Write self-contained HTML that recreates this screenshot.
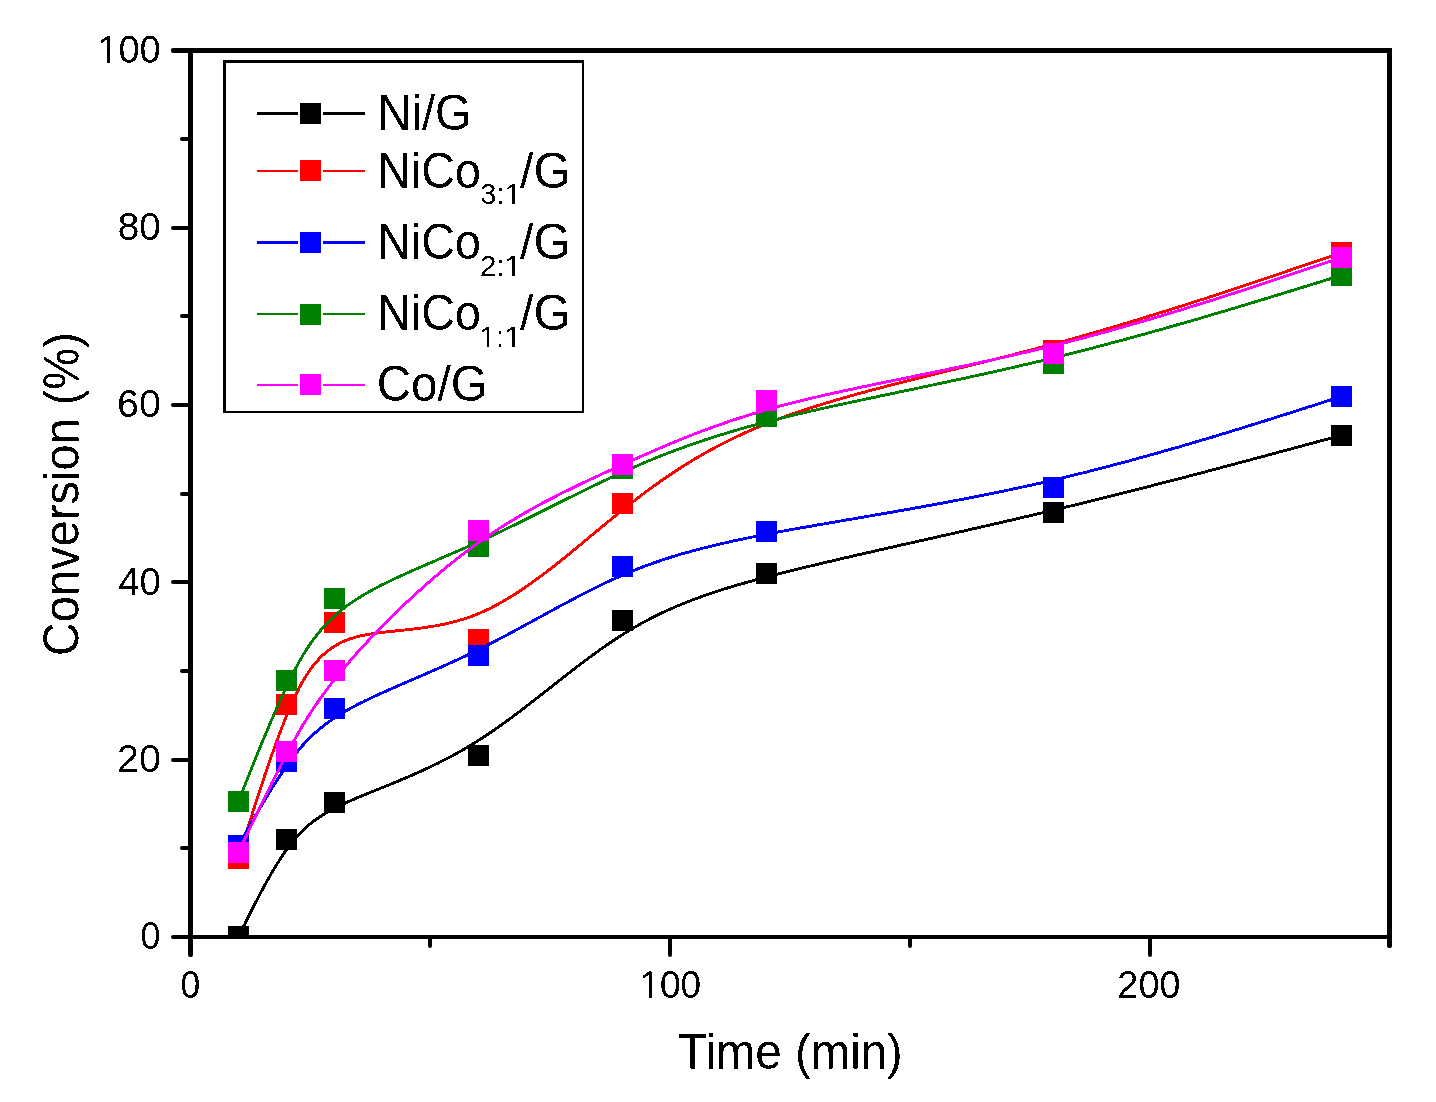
<!DOCTYPE html>
<html><head><meta charset="utf-8"><title>Conversion vs Time</title>
<style>html,body{margin:0;padding:0;background:#fff;} body{width:1436px;height:1102px;} svg{display:block;will-change:transform;}</style>
</head><body>
<svg width="1436" height="1102" viewBox="0 0 1436 1102">
<rect x="0" y="0" width="1436" height="1102" fill="#fff"/>
<defs><clipPath id="pc"><rect x="190.5" y="50.5" width="1199" height="886.5"/></clipPath></defs>
<g clip-path="url(#pc)">
<path d="M238.5,937.0 L238.5,937.0 L238.5,937.0 L238.5,937.0 L238.5,937.0 L238.5,937.0 L238.5,937.0 L238.5,937.0 L238.5,937.0 L238.5,936.9 L238.5,936.9 L238.5,936.9 L238.5,936.8 L238.6,936.8 L238.6,936.7 L238.6,936.7 L238.7,936.6 L238.7,936.5 L238.7,936.4 L238.8,936.3 L238.8,936.2 L238.9,936.1 L239.0,936.0 L239.0,935.8 L239.1,935.7 L239.2,935.5 L239.3,935.3 L239.4,935.1 L239.5,934.9 L239.6,934.7 L239.7,934.4 L239.9,934.2 L240.0,933.9 L240.1,933.6 L240.3,933.3 L240.5,932.9 L240.6,932.6 L240.8,932.2 L241.0,931.8 L241.2,931.4 L241.5,930.9 L241.7,930.5 L241.9,930.0 L242.2,929.4 L242.5,928.9 L242.7,928.3 L243.0,927.8 L243.3,927.1 L243.6,926.5 L244.0,925.8 L244.3,925.1 L244.7,924.4 L245.1,923.6 L245.4,922.9 L245.8,922.0 L246.3,921.2 L246.7,920.3 L247.1,919.4 L247.6,918.5 L248.1,917.5 L248.6,916.5 L249.1,915.5 L249.6,914.4 L250.1,913.4 L250.7,912.2 L251.3,911.1 L251.8,910.0 L252.4,908.8 L253.0,907.6 L253.6,906.4 L254.3,905.2 L254.9,903.9 L255.5,902.7 L256.2,901.4 L256.9,900.1 L257.5,898.8 L258.2,897.5 L258.9,896.1 L259.6,894.8 L260.4,893.4 L261.1,892.0 L261.8,890.7 L262.6,889.3 L263.3,887.9 L264.1,886.5 L264.8,885.1 L265.6,883.7 L266.4,882.2 L267.2,880.8 L268.0,879.4 L268.8,878.0 L269.6,876.6 L270.4,875.1 L271.2,873.7 L272.0,872.3 L272.9,870.9 L273.7,869.5 L274.5,868.1 L275.4,866.7 L276.2,865.3 L277.1,864.0 L277.9,862.6 L278.8,861.2 L279.6,859.9 L280.5,858.6 L281.3,857.2 L282.2,855.9 L283.1,854.6 L283.9,853.4 L284.8,852.1 L285.7,850.9 L286.5,849.6 L287.4,848.4 L288.2,847.3 L289.1,846.1 L290.0,845.0 L290.9,843.8 L291.7,842.7 L292.6,841.6 L293.5,840.5 L294.4,839.5 L295.3,838.4 L296.2,837.4 L297.1,836.4 L298.0,835.4 L298.9,834.4 L299.8,833.4 L300.7,832.5 L301.7,831.5 L302.6,830.6 L303.6,829.6 L304.6,828.7 L305.6,827.8 L306.6,826.9 L307.6,826.1 L308.6,825.2 L309.6,824.3 L310.7,823.5 L311.7,822.6 L312.8,821.8 L313.9,821.0 L315.0,820.2 L316.2,819.4 L317.3,818.6 L318.5,817.8 L319.6,817.0 L320.9,816.2 L322.1,815.4 L323.3,814.6 L324.6,813.8 L325.9,813.1 L327.2,812.3 L328.5,811.6 L329.9,810.8 L331.2,810.0 L332.6,809.3 L334.1,808.5 L335.5,807.8 L337.0,807.0 L338.5,806.3 L340.0,805.5 L341.6,804.8 L343.2,804.0 L344.8,803.3 L346.4,802.5 L348.1,801.8 L349.8,801.0 L351.5,800.2 L353.3,799.5 L355.1,798.7 L356.9,797.9 L358.8,797.1 L360.7,796.4 L362.6,795.6 L364.5,794.8 L366.5,794.0 L368.5,793.2 L370.5,792.3 L372.5,791.5 L374.6,790.7 L376.7,789.8 L378.8,789.0 L380.9,788.1 L383.1,787.2 L385.3,786.4 L387.5,785.5 L389.7,784.6 L392.0,783.6 L394.2,782.7 L396.5,781.8 L398.8,780.8 L401.1,779.8 L403.5,778.8 L405.8,777.8 L408.2,776.8 L410.6,775.8 L413.0,774.7 L415.4,773.7 L417.8,772.6 L420.3,771.5 L422.7,770.4 L425.2,769.2 L427.7,768.1 L430.2,766.9 L432.7,765.7 L435.2,764.5 L437.7,763.3 L440.2,762.0 L442.8,760.7 L445.3,759.4 L447.8,758.1 L450.4,756.7 L453.0,755.4 L455.5,754.0 L458.1,752.5 L460.7,751.1 L463.3,749.6 L465.9,748.1 L468.5,746.6 L471.1,745.1 L473.6,743.5 L476.2,741.9 L478.8,740.2 L481.4,738.6 L484.0,736.9 L486.6,735.2 L489.2,733.4 L491.8,731.7 L494.4,729.9 L497.0,728.0 L499.6,726.2 L502.2,724.4 L504.8,722.5 L507.4,720.6 L510.0,718.7 L512.6,716.8 L515.2,714.8 L517.8,712.9 L520.4,710.9 L523.0,708.9 L525.5,706.9 L528.1,704.9 L530.7,702.9 L533.3,700.9 L535.9,698.9 L538.5,696.9 L541.1,694.8 L543.7,692.8 L546.3,690.8 L548.9,688.7 L551.5,686.7 L554.1,684.7 L556.7,682.6 L559.3,680.6 L561.9,678.6 L564.5,676.5 L567.1,674.5 L569.7,672.5 L572.3,670.5 L574.9,668.5 L577.4,666.5 L580.0,664.5 L582.6,662.6 L585.2,660.6 L587.8,658.7 L590.4,656.7 L593.0,654.8 L595.6,653.0 L598.2,651.1 L600.8,649.2 L603.4,647.4 L606.0,645.6 L608.6,643.8 L611.2,642.0 L613.8,640.3 L616.4,638.6 L619.0,636.9 L621.6,635.2 L624.2,633.6 L626.8,632.0 L629.4,630.4 L632.0,628.8 L634.6,627.3 L637.2,625.8 L639.8,624.3 L642.4,622.9 L645.0,621.5 L647.6,620.1 L650.3,618.7 L652.9,617.3 L655.6,616.0 L658.3,614.7 L660.9,613.4 L663.6,612.1 L666.3,610.9 L669.1,609.6 L671.8,608.4 L674.6,607.2 L677.3,606.0 L680.1,604.9 L682.9,603.7 L685.7,602.6 L688.6,601.5 L691.4,600.3 L694.3,599.3 L697.2,598.2 L700.2,597.1 L703.1,596.0 L706.1,595.0 L709.1,594.0 L712.2,592.9 L715.2,591.9 L718.3,590.9 L721.4,589.9 L724.6,588.9 L727.8,587.9 L731.0,586.9 L734.2,586.0 L737.5,585.0 L740.8,584.0 L744.2,583.1 L747.5,582.1 L751.0,581.2 L754.4,580.2 L757.9,579.3 L761.5,578.3 L765.0,577.4 L768.7,576.4 L772.3,575.5 L776.0,574.5 L779.8,573.5 L783.6,572.6 L787.4,571.6 L791.3,570.7 L795.2,569.7 L799.2,568.7 L803.2,567.7 L807.3,566.7 L811.4,565.8 L815.6,564.8 L819.7,563.8 L824.0,562.8 L828.3,561.8 L832.6,560.8 L836.9,559.7 L841.3,558.7 L845.7,557.7 L850.2,556.7 L854.7,555.6 L859.2,554.6 L863.8,553.6 L868.4,552.5 L873.0,551.5 L877.6,550.4 L882.3,549.3 L887.0,548.3 L891.8,547.2 L896.5,546.1 L901.3,545.0 L906.2,544.0 L911.0,542.9 L915.9,541.8 L920.8,540.7 L925.7,539.6 L930.6,538.5 L935.6,537.3 L940.5,536.2 L945.5,535.1 L950.5,534.0 L955.6,532.8 L960.6,531.7 L965.7,530.5 L970.8,529.4 L975.8,528.2 L980.9,527.1 L986.0,525.9 L991.2,524.7 L996.3,523.5 L1001.4,522.4 L1006.6,521.2 L1011.8,520.0 L1016.9,518.8 L1022.1,517.6 L1027.3,516.3 L1032.5,515.1 L1037.6,513.9 L1042.8,512.7 L1048.0,511.4 L1053.2,510.2 L1058.4,509.0 L1063.6,507.7 L1068.8,506.4 L1073.9,505.2 L1079.1,503.9 L1084.3,502.7 L1089.4,501.4 L1094.6,500.1 L1099.7,498.8 L1104.8,497.6 L1109.9,496.3 L1115.0,495.0 L1120.1,493.8 L1125.1,492.5 L1130.1,491.2 L1135.1,489.9 L1140.1,488.7 L1145.0,487.4 L1149.9,486.2 L1154.8,484.9 L1159.6,483.7 L1164.4,482.4 L1169.2,481.2 L1173.9,480.0 L1178.6,478.8 L1183.3,477.6 L1187.9,476.4 L1192.4,475.2 L1196.9,474.0 L1201.4,472.8 L1205.8,471.7 L1210.2,470.5 L1214.5,469.4 L1218.7,468.3 L1222.9,467.1 L1227.0,466.0 L1231.1,465.0 L1235.1,463.9 L1239.1,462.8 L1242.9,461.8 L1246.8,460.8 L1250.5,459.8 L1254.2,458.8 L1257.8,457.8 L1261.3,456.9 L1264.8,456.0 L1268.1,455.1 L1271.4,454.2 L1274.6,453.3 L1277.8,452.5 L1280.8,451.6 L1283.8,450.8 L1286.6,450.1 L1289.4,449.3 L1292.1,448.6 L1294.7,447.9 L1297.2,447.2 L1299.6,446.6 L1302.0,445.9 L1304.2,445.3 L1306.4,444.7 L1308.4,444.2 L1310.4,443.6 L1312.3,443.1 L1314.2,442.6 L1315.9,442.2 L1317.6,441.7 L1319.2,441.3 L1320.7,440.9 L1322.1,440.5 L1323.5,440.1 L1324.8,439.8 L1326.1,439.4 L1327.3,439.1 L1328.4,438.8 L1329.5,438.5 L1330.5,438.2 L1331.4,438.0 L1332.3,437.7 L1333.2,437.5 L1333.9,437.3 L1334.7,437.1 L1335.4,436.9 L1336.0,436.7 L1336.6,436.6 L1337.1,436.4 L1337.7,436.3 L1338.1,436.2 L1338.5,436.1 L1338.9,435.9 L1339.3,435.8 L1339.6,435.8 L1339.9,435.7 L1340.2,435.6 L1340.4,435.6 L1340.6,435.5 L1340.8,435.4 L1340.9,435.4 L1341.1,435.4 L1341.2,435.3 L1341.3,435.3 L1341.3,435.3 L1341.4,435.3 L1341.4,435.3 L1341.5,435.3 L1341.5,435.3 L1341.5,435.2 L1341.5,435.2 L1341.5,435.2 L1341.5,435.2 L1341.5,435.2" fill="none" stroke="#000000" stroke-width="2.9" stroke-linejoin="round" shape-rendering="crispEdges"/>
<rect x="228" y="926" width="21" height="21" fill="#000000"/>
<rect x="276" y="829" width="21" height="21" fill="#000000"/>
<rect x="324" y="792" width="21" height="21" fill="#000000"/>
<rect x="468" y="745" width="21" height="21" fill="#000000"/>
<rect x="612" y="610" width="21" height="21" fill="#000000"/>
<rect x="756" y="563" width="21" height="21" fill="#000000"/>
<rect x="1043" y="502" width="21" height="21" fill="#000000"/>
<rect x="1331" y="425" width="21" height="21" fill="#000000"/>
<path d="M238.5,858.2 L238.5,858.2 L238.5,858.2 L238.5,858.2 L238.5,858.2 L238.5,858.2 L238.5,858.2 L238.5,858.1 L238.5,858.1 L238.5,858.1 L238.5,858.0 L238.5,858.0 L238.5,857.9 L238.6,857.9 L238.6,857.8 L238.6,857.7 L238.7,857.6 L238.7,857.4 L238.7,857.3 L238.8,857.2 L238.8,857.0 L238.9,856.8 L239.0,856.6 L239.0,856.4 L239.1,856.1 L239.2,855.8 L239.3,855.5 L239.4,855.2 L239.5,854.9 L239.6,854.5 L239.7,854.1 L239.9,853.7 L240.0,853.3 L240.1,852.8 L240.3,852.3 L240.5,851.7 L240.6,851.2 L240.8,850.6 L241.0,849.9 L241.2,849.2 L241.5,848.5 L241.7,847.8 L241.9,847.0 L242.2,846.2 L242.5,845.3 L242.7,844.5 L243.0,843.5 L243.3,842.5 L243.6,841.5 L244.0,840.5 L244.3,839.3 L244.7,838.2 L245.1,837.0 L245.4,835.7 L245.8,834.5 L246.3,833.1 L246.7,831.7 L247.1,830.3 L247.6,828.8 L248.1,827.2 L248.6,825.7 L249.1,824.0 L249.6,822.4 L250.1,820.7 L250.7,818.9 L251.3,817.1 L251.8,815.3 L252.4,813.4 L253.0,811.5 L253.6,809.6 L254.3,807.6 L254.9,805.6 L255.5,803.6 L256.2,801.6 L256.9,799.5 L257.5,797.4 L258.2,795.2 L258.9,793.1 L259.6,790.9 L260.4,788.7 L261.1,786.5 L261.8,784.3 L262.6,782.0 L263.3,779.8 L264.1,777.5 L264.8,775.2 L265.6,772.9 L266.4,770.6 L267.2,768.3 L268.0,766.0 L268.8,763.7 L269.6,761.3 L270.4,759.0 L271.2,756.7 L272.0,754.3 L272.9,752.0 L273.7,749.7 L274.5,747.3 L275.4,745.0 L276.2,742.7 L277.1,740.4 L277.9,738.1 L278.8,735.8 L279.6,733.5 L280.5,731.2 L281.3,729.0 L282.2,726.8 L283.1,724.5 L283.9,722.3 L284.8,720.2 L285.7,718.0 L286.5,715.9 L287.4,713.7 L288.2,711.7 L289.1,709.6 L290.0,707.6 L290.9,705.5 L291.7,703.5 L292.6,701.6 L293.5,699.6 L294.4,697.7 L295.3,695.8 L296.2,694.0 L297.1,692.1 L298.0,690.3 L298.9,688.5 L299.8,686.7 L300.7,685.0 L301.7,683.3 L302.6,681.6 L303.6,679.9 L304.6,678.3 L305.6,676.7 L306.6,675.1 L307.6,673.5 L308.6,672.0 L309.6,670.5 L310.7,669.0 L311.7,667.6 L312.8,666.2 L313.9,664.8 L315.0,663.4 L316.2,662.1 L317.3,660.8 L318.5,659.5 L319.6,658.3 L320.9,657.0 L322.1,655.8 L323.3,654.7 L324.6,653.5 L325.9,652.4 L327.2,651.4 L328.5,650.3 L329.9,649.3 L331.2,648.3 L332.6,647.4 L334.1,646.5 L335.5,645.6 L337.0,644.7 L338.5,643.9 L340.0,643.1 L341.6,642.3 L343.2,641.6 L344.8,640.9 L346.4,640.2 L348.1,639.5 L349.8,638.9 L351.5,638.3 L353.3,637.8 L355.1,637.3 L356.9,636.8 L358.8,636.3 L360.7,635.9 L362.6,635.5 L364.5,635.1 L366.5,634.7 L368.5,634.3 L370.5,634.0 L372.5,633.7 L374.6,633.4 L376.7,633.1 L378.8,632.8 L380.9,632.5 L383.1,632.3 L385.3,632.0 L387.5,631.8 L389.7,631.5 L392.0,631.3 L394.2,631.1 L396.5,630.8 L398.8,630.6 L401.1,630.4 L403.5,630.1 L405.8,629.9 L408.2,629.6 L410.6,629.3 L413.0,629.1 L415.4,628.8 L417.8,628.5 L420.3,628.2 L422.7,627.8 L425.2,627.5 L427.7,627.1 L430.2,626.7 L432.7,626.3 L435.2,625.9 L437.7,625.4 L440.2,624.9 L442.8,624.4 L445.3,623.9 L447.8,623.3 L450.4,622.7 L453.0,622.1 L455.5,621.4 L458.1,620.7 L460.7,619.9 L463.3,619.1 L465.9,618.3 L468.5,617.4 L471.1,616.5 L473.6,615.6 L476.2,614.5 L478.8,613.5 L481.4,612.4 L484.0,611.2 L486.6,610.0 L489.2,608.8 L491.8,607.5 L494.4,606.1 L497.0,604.8 L499.6,603.3 L502.2,601.9 L504.8,600.4 L507.4,598.8 L510.0,597.3 L512.6,595.7 L515.2,594.0 L517.8,592.3 L520.4,590.6 L523.0,588.9 L525.5,587.1 L528.1,585.3 L530.7,583.5 L533.3,581.6 L535.9,579.7 L538.5,577.8 L541.1,575.9 L543.7,574.0 L546.3,572.0 L548.9,570.0 L551.5,568.0 L554.1,566.0 L556.7,563.9 L559.3,561.9 L561.9,559.8 L564.5,557.7 L567.1,555.6 L569.7,553.5 L572.3,551.4 L574.9,549.2 L577.4,547.1 L580.0,545.0 L582.6,542.8 L585.2,540.7 L587.8,538.5 L590.4,536.3 L593.0,534.2 L595.6,532.0 L598.2,529.9 L600.8,527.7 L603.4,525.6 L606.0,523.4 L608.6,521.3 L611.2,519.2 L613.8,517.1 L616.4,514.9 L619.0,512.8 L621.6,510.8 L624.2,508.7 L626.8,506.6 L629.4,504.6 L632.0,502.5 L634.6,500.5 L637.2,498.5 L639.8,496.5 L642.4,494.5 L645.0,492.6 L647.6,490.6 L650.3,488.7 L652.9,486.7 L655.6,484.8 L658.3,482.9 L660.9,481.0 L663.6,479.1 L666.3,477.3 L669.1,475.4 L671.8,473.6 L674.6,471.8 L677.3,469.9 L680.1,468.1 L682.9,466.3 L685.7,464.6 L688.6,462.8 L691.4,461.1 L694.3,459.3 L697.2,457.6 L700.2,455.9 L703.1,454.2 L706.1,452.5 L709.1,450.8 L712.2,449.2 L715.2,447.5 L718.3,445.9 L721.4,444.2 L724.6,442.6 L727.8,441.0 L731.0,439.4 L734.2,437.9 L737.5,436.3 L740.8,434.8 L744.2,433.2 L747.5,431.7 L751.0,430.2 L754.4,428.7 L757.9,427.2 L761.5,425.7 L765.0,424.2 L768.7,422.8 L772.3,421.3 L776.0,419.9 L779.8,418.5 L783.6,417.1 L787.4,415.7 L791.3,414.3 L795.2,412.9 L799.2,411.6 L803.2,410.2 L807.3,408.9 L811.4,407.6 L815.6,406.3 L819.7,405.0 L824.0,403.7 L828.3,402.4 L832.6,401.1 L836.9,399.8 L841.3,398.5 L845.7,397.3 L850.2,396.0 L854.7,394.8 L859.2,393.5 L863.8,392.3 L868.4,391.0 L873.0,389.8 L877.6,388.6 L882.3,387.4 L887.0,386.1 L891.8,384.9 L896.5,383.7 L901.3,382.5 L906.2,381.2 L911.0,380.0 L915.9,378.8 L920.8,377.6 L925.7,376.4 L930.6,375.1 L935.6,373.9 L940.5,372.7 L945.5,371.4 L950.5,370.2 L955.6,369.0 L960.6,367.7 L965.7,366.5 L970.8,365.2 L975.8,364.0 L980.9,362.7 L986.0,361.4 L991.2,360.2 L996.3,358.9 L1001.4,357.6 L1006.6,356.3 L1011.8,355.0 L1016.9,353.6 L1022.1,352.3 L1027.3,351.0 L1032.5,349.6 L1037.6,348.2 L1042.8,346.9 L1048.0,345.5 L1053.2,344.1 L1058.4,342.7 L1063.6,341.3 L1068.8,339.8 L1073.9,338.4 L1079.1,336.9 L1084.3,335.4 L1089.4,334.0 L1094.6,332.5 L1099.7,331.0 L1104.8,329.5 L1109.9,328.0 L1115.0,326.5 L1120.1,325.0 L1125.1,323.5 L1130.1,322.0 L1135.1,320.5 L1140.1,319.0 L1145.0,317.5 L1149.9,315.9 L1154.8,314.4 L1159.6,312.9 L1164.4,311.4 L1169.2,309.9 L1173.9,308.5 L1178.6,307.0 L1183.3,305.5 L1187.9,304.0 L1192.4,302.6 L1196.9,301.1 L1201.4,299.7 L1205.8,298.3 L1210.2,296.8 L1214.5,295.4 L1218.7,294.0 L1222.9,292.7 L1227.0,291.3 L1231.1,290.0 L1235.1,288.6 L1239.1,287.3 L1242.9,286.0 L1246.8,284.8 L1250.5,283.5 L1254.2,282.3 L1257.8,281.1 L1261.3,279.9 L1264.8,278.7 L1268.1,277.6 L1271.4,276.5 L1274.6,275.4 L1277.8,274.3 L1280.8,273.3 L1283.8,272.3 L1286.6,271.3 L1289.4,270.4 L1292.1,269.4 L1294.7,268.6 L1297.2,267.7 L1299.6,266.9 L1302.0,266.1 L1304.2,265.3 L1306.4,264.6 L1308.4,263.9 L1310.4,263.2 L1312.3,262.6 L1314.2,261.9 L1315.9,261.4 L1317.6,260.8 L1319.2,260.2 L1320.7,259.7 L1322.1,259.2 L1323.5,258.8 L1324.8,258.3 L1326.1,257.9 L1327.3,257.5 L1328.4,257.1 L1329.5,256.7 L1330.5,256.4 L1331.4,256.1 L1332.3,255.8 L1333.2,255.5 L1333.9,255.2 L1334.7,255.0 L1335.4,254.7 L1336.0,254.5 L1336.6,254.3 L1337.1,254.1 L1337.7,253.9 L1338.1,253.8 L1338.5,253.6 L1338.9,253.5 L1339.3,253.4 L1339.6,253.3 L1339.9,253.2 L1340.2,253.1 L1340.4,253.0 L1340.6,252.9 L1340.8,252.9 L1340.9,252.8 L1341.1,252.8 L1341.2,252.7 L1341.3,252.7 L1341.3,252.7 L1341.4,252.7 L1341.4,252.7 L1341.5,252.6 L1341.5,252.6 L1341.5,252.6 L1341.5,252.6 L1341.5,252.6 L1341.5,252.6 L1341.5,252.6" fill="none" stroke="#ff0000" stroke-width="2.9" stroke-linejoin="round" shape-rendering="crispEdges"/>
<rect x="228" y="848" width="21" height="21" fill="#ff0000"/>
<rect x="276" y="694" width="21" height="21" fill="#ff0000"/>
<rect x="324" y="612" width="21" height="21" fill="#ff0000"/>
<rect x="468" y="629" width="21" height="21" fill="#ff0000"/>
<rect x="612" y="493" width="21" height="21" fill="#ff0000"/>
<rect x="756" y="398" width="21" height="21" fill="#ff0000"/>
<rect x="1043" y="340" width="21" height="21" fill="#ff0000"/>
<rect x="1331" y="242" width="21" height="21" fill="#ff0000"/>
<path d="M238.5,845.4 L238.5,845.4 L238.5,845.4 L238.5,845.4 L238.5,845.4 L238.5,845.4 L238.5,845.4 L238.5,845.4 L238.5,845.4 L238.5,845.4 L238.5,845.3 L238.5,845.3 L238.5,845.3 L238.6,845.2 L238.6,845.2 L238.6,845.1 L238.7,845.1 L238.7,845.0 L238.7,844.9 L238.8,844.9 L238.8,844.8 L238.9,844.7 L239.0,844.5 L239.0,844.4 L239.1,844.3 L239.2,844.1 L239.3,844.0 L239.4,843.8 L239.5,843.6 L239.6,843.4 L239.7,843.2 L239.9,843.0 L240.0,842.7 L240.1,842.5 L240.3,842.2 L240.5,841.9 L240.6,841.6 L240.8,841.2 L241.0,840.9 L241.2,840.5 L241.5,840.1 L241.7,839.7 L241.9,839.3 L242.2,838.9 L242.5,838.4 L242.7,837.9 L243.0,837.4 L243.3,836.9 L243.6,836.3 L244.0,835.7 L244.3,835.1 L244.7,834.5 L245.1,833.8 L245.4,833.1 L245.8,832.4 L246.3,831.7 L246.7,830.9 L247.1,830.1 L247.6,829.3 L248.1,828.5 L248.6,827.6 L249.1,826.7 L249.6,825.8 L250.1,824.9 L250.7,823.9 L251.3,822.9 L251.8,821.9 L252.4,820.9 L253.0,819.9 L253.6,818.8 L254.3,817.7 L254.9,816.6 L255.5,815.5 L256.2,814.4 L256.9,813.2 L257.5,812.1 L258.2,810.9 L258.9,809.7 L259.6,808.5 L260.4,807.3 L261.1,806.1 L261.8,804.8 L262.6,803.6 L263.3,802.3 L264.1,801.1 L264.8,799.8 L265.6,798.5 L266.4,797.2 L267.2,796.0 L268.0,794.7 L268.8,793.4 L269.6,792.0 L270.4,790.7 L271.2,789.4 L272.0,788.1 L272.9,786.8 L273.7,785.5 L274.5,784.2 L275.4,782.9 L276.2,781.6 L277.1,780.2 L277.9,778.9 L278.8,777.6 L279.6,776.3 L280.5,775.0 L281.3,773.8 L282.2,772.5 L283.1,771.2 L283.9,769.9 L284.8,768.7 L285.7,767.4 L286.5,766.2 L287.4,765.0 L288.2,763.7 L289.1,762.5 L290.0,761.3 L290.9,760.1 L291.7,759.0 L292.6,757.8 L293.5,756.6 L294.4,755.5 L295.3,754.3 L296.2,753.2 L297.1,752.1 L298.0,750.9 L298.9,749.8 L299.8,748.7 L300.7,747.6 L301.7,746.5 L302.6,745.4 L303.6,744.4 L304.6,743.3 L305.6,742.2 L306.6,741.2 L307.6,740.1 L308.6,739.1 L309.6,738.1 L310.7,737.0 L311.7,736.0 L312.8,735.0 L313.9,734.0 L315.0,732.9 L316.2,731.9 L317.3,730.9 L318.5,729.9 L319.6,728.9 L320.9,728.0 L322.1,727.0 L323.3,726.0 L324.6,725.0 L325.9,724.0 L327.2,723.1 L328.5,722.1 L329.9,721.1 L331.2,720.2 L332.6,719.2 L334.1,718.2 L335.5,717.3 L337.0,716.3 L338.5,715.4 L340.0,714.4 L341.6,713.5 L343.2,712.5 L344.8,711.6 L346.4,710.6 L348.1,709.7 L349.8,708.7 L351.5,707.8 L353.3,706.8 L355.1,705.9 L356.9,704.9 L358.8,704.0 L360.7,703.0 L362.6,702.1 L364.5,701.1 L366.5,700.2 L368.5,699.2 L370.5,698.3 L372.5,697.3 L374.6,696.3 L376.7,695.4 L378.8,694.4 L380.9,693.4 L383.1,692.5 L385.3,691.5 L387.5,690.5 L389.7,689.5 L392.0,688.5 L394.2,687.5 L396.5,686.5 L398.8,685.5 L401.1,684.5 L403.5,683.5 L405.8,682.5 L408.2,681.5 L410.6,680.4 L413.0,679.4 L415.4,678.3 L417.8,677.3 L420.3,676.2 L422.7,675.2 L425.2,674.1 L427.7,673.0 L430.2,671.9 L432.7,670.8 L435.2,669.7 L437.7,668.6 L440.2,667.5 L442.8,666.4 L445.3,665.2 L447.8,664.1 L450.4,662.9 L453.0,661.7 L455.5,660.6 L458.1,659.4 L460.7,658.2 L463.3,657.0 L465.9,655.7 L468.5,654.5 L471.1,653.3 L473.6,652.0 L476.2,650.7 L478.8,649.5 L481.4,648.2 L484.0,646.9 L486.6,645.6 L489.2,644.2 L491.8,642.9 L494.4,641.6 L497.0,640.2 L499.6,638.8 L502.2,637.5 L504.8,636.1 L507.4,634.7 L510.0,633.3 L512.6,631.9 L515.2,630.5 L517.8,629.1 L520.4,627.7 L523.0,626.3 L525.5,624.9 L528.1,623.5 L530.7,622.1 L533.3,620.7 L535.9,619.2 L538.5,617.8 L541.1,616.4 L543.7,615.0 L546.3,613.6 L548.9,612.1 L551.5,610.7 L554.1,609.3 L556.7,607.9 L559.3,606.5 L561.9,605.1 L564.5,603.7 L567.1,602.4 L569.7,601.0 L572.3,599.6 L574.9,598.2 L577.4,596.9 L580.0,595.5 L582.6,594.2 L585.2,592.9 L587.8,591.5 L590.4,590.2 L593.0,588.9 L595.6,587.7 L598.2,586.4 L600.8,585.1 L603.4,583.9 L606.0,582.6 L608.6,581.4 L611.2,580.2 L613.8,579.0 L616.4,577.9 L619.0,576.7 L621.6,575.6 L624.2,574.5 L626.8,573.4 L629.4,572.3 L632.0,571.2 L634.6,570.1 L637.2,569.1 L639.8,568.1 L642.4,567.1 L645.0,566.1 L647.6,565.1 L650.3,564.2 L652.9,563.2 L655.6,562.3 L658.3,561.4 L660.9,560.5 L663.6,559.6 L666.3,558.7 L669.1,557.8 L671.8,556.9 L674.6,556.1 L677.3,555.3 L680.1,554.4 L682.9,553.6 L685.7,552.8 L688.6,552.0 L691.4,551.2 L694.3,550.4 L697.2,549.6 L700.2,548.9 L703.1,548.1 L706.1,547.4 L709.1,546.6 L712.2,545.9 L715.2,545.1 L718.3,544.4 L721.4,543.7 L724.6,543.0 L727.8,542.2 L731.0,541.5 L734.2,540.8 L737.5,540.1 L740.8,539.4 L744.2,538.7 L747.5,538.0 L751.0,537.3 L754.4,536.6 L757.9,535.9 L761.5,535.2 L765.0,534.5 L768.7,533.8 L772.3,533.1 L776.0,532.4 L779.8,531.7 L783.6,531.0 L787.4,530.3 L791.3,529.6 L795.2,528.9 L799.2,528.2 L803.2,527.5 L807.3,526.8 L811.4,526.1 L815.6,525.3 L819.7,524.6 L824.0,523.9 L828.3,523.1 L832.6,522.4 L836.9,521.6 L841.3,520.9 L845.7,520.1 L850.2,519.4 L854.7,518.6 L859.2,517.8 L863.8,517.0 L868.4,516.2 L873.0,515.4 L877.6,514.6 L882.3,513.8 L887.0,513.0 L891.8,512.2 L896.5,511.3 L901.3,510.5 L906.2,509.6 L911.0,508.8 L915.9,507.9 L920.8,507.0 L925.7,506.1 L930.6,505.2 L935.6,504.3 L940.5,503.4 L945.5,502.5 L950.5,501.5 L955.6,500.6 L960.6,499.6 L965.7,498.6 L970.8,497.7 L975.8,496.7 L980.9,495.6 L986.0,494.6 L991.2,493.6 L996.3,492.5 L1001.4,491.5 L1006.6,490.4 L1011.8,489.3 L1016.9,488.2 L1022.1,487.1 L1027.3,486.0 L1032.5,484.8 L1037.6,483.7 L1042.8,482.5 L1048.0,481.3 L1053.2,480.1 L1058.4,478.9 L1063.6,477.6 L1068.8,476.4 L1073.9,475.1 L1079.1,473.8 L1084.3,472.6 L1089.4,471.3 L1094.6,469.9 L1099.7,468.6 L1104.8,467.3 L1109.9,466.0 L1115.0,464.6 L1120.1,463.3 L1125.1,461.9 L1130.1,460.6 L1135.1,459.2 L1140.1,457.8 L1145.0,456.5 L1149.9,455.1 L1154.8,453.8 L1159.6,452.4 L1164.4,451.0 L1169.2,449.7 L1173.9,448.3 L1178.6,447.0 L1183.3,445.6 L1187.9,444.3 L1192.4,442.9 L1196.9,441.6 L1201.4,440.3 L1205.8,439.0 L1210.2,437.7 L1214.5,436.4 L1218.7,435.1 L1222.9,433.8 L1227.0,432.6 L1231.1,431.3 L1235.1,430.1 L1239.1,428.9 L1242.9,427.7 L1246.8,426.5 L1250.5,425.3 L1254.2,424.2 L1257.8,423.1 L1261.3,422.0 L1264.8,420.9 L1268.1,419.8 L1271.4,418.8 L1274.6,417.8 L1277.8,416.8 L1280.8,415.8 L1283.8,414.9 L1286.6,414.0 L1289.4,413.1 L1292.1,412.2 L1294.7,411.4 L1297.2,410.6 L1299.6,409.8 L1302.0,409.1 L1304.2,408.4 L1306.4,407.7 L1308.4,407.0 L1310.4,406.4 L1312.3,405.8 L1314.2,405.2 L1315.9,404.7 L1317.6,404.1 L1319.2,403.6 L1320.7,403.1 L1322.1,402.7 L1323.5,402.2 L1324.8,401.8 L1326.1,401.4 L1327.3,401.0 L1328.4,400.7 L1329.5,400.3 L1330.5,400.0 L1331.4,399.7 L1332.3,399.4 L1333.2,399.2 L1333.9,398.9 L1334.7,398.7 L1335.4,398.5 L1336.0,398.3 L1336.6,398.1 L1337.1,397.9 L1337.7,397.7 L1338.1,397.6 L1338.5,397.5 L1338.9,397.3 L1339.3,397.2 L1339.6,397.1 L1339.9,397.0 L1340.2,396.9 L1340.4,396.9 L1340.6,396.8 L1340.8,396.7 L1340.9,396.7 L1341.1,396.7 L1341.2,396.6 L1341.3,396.6 L1341.3,396.6 L1341.4,396.5 L1341.4,396.5 L1341.5,396.5 L1341.5,396.5 L1341.5,396.5 L1341.5,396.5 L1341.5,396.5 L1341.5,396.5 L1341.5,396.5" fill="none" stroke="#0000ff" stroke-width="2.9" stroke-linejoin="round" shape-rendering="crispEdges"/>
<rect x="228" y="835" width="21" height="21" fill="#0000ff"/>
<rect x="276" y="751" width="21" height="21" fill="#0000ff"/>
<rect x="324" y="698" width="21" height="21" fill="#0000ff"/>
<rect x="468" y="645" width="21" height="21" fill="#0000ff"/>
<rect x="612" y="556" width="21" height="21" fill="#0000ff"/>
<rect x="756" y="521" width="21" height="21" fill="#0000ff"/>
<rect x="1043" y="477" width="21" height="21" fill="#0000ff"/>
<rect x="1331" y="386" width="21" height="21" fill="#0000ff"/>
<path d="M238.5,801.3 L238.5,801.3 L238.5,801.3 L238.5,801.3 L238.5,801.3 L238.5,801.3 L238.5,801.3 L238.5,801.2 L238.5,801.2 L238.5,801.2 L238.5,801.2 L238.5,801.1 L238.5,801.1 L238.6,801.0 L238.6,801.0 L238.6,800.9 L238.7,800.8 L238.7,800.7 L238.7,800.6 L238.8,800.5 L238.8,800.3 L238.9,800.2 L239.0,800.0 L239.0,799.8 L239.1,799.6 L239.2,799.4 L239.3,799.2 L239.4,799.0 L239.5,798.7 L239.6,798.4 L239.7,798.1 L239.9,797.8 L240.0,797.4 L240.1,797.0 L240.3,796.6 L240.5,796.2 L240.6,795.8 L240.8,795.3 L241.0,794.8 L241.2,794.3 L241.5,793.7 L241.7,793.1 L241.9,792.5 L242.2,791.9 L242.5,791.2 L242.7,790.5 L243.0,789.8 L243.3,789.0 L243.6,788.2 L244.0,787.4 L244.3,786.5 L244.7,785.6 L245.1,784.7 L245.4,783.7 L245.8,782.7 L246.3,781.6 L246.7,780.5 L247.1,779.4 L247.6,778.2 L248.1,777.0 L248.6,775.8 L249.1,774.5 L249.6,773.2 L250.1,771.9 L250.7,770.5 L251.3,769.1 L251.8,767.7 L252.4,766.2 L253.0,764.7 L253.6,763.2 L254.3,761.6 L254.9,760.0 L255.5,758.5 L256.2,756.8 L256.9,755.2 L257.5,753.5 L258.2,751.8 L258.9,750.1 L259.6,748.4 L260.4,746.6 L261.1,744.9 L261.8,743.1 L262.6,741.3 L263.3,739.5 L264.1,737.7 L264.8,735.8 L265.6,734.0 L266.4,732.1 L267.2,730.3 L268.0,728.4 L268.8,726.5 L269.6,724.6 L270.4,722.7 L271.2,720.8 L272.0,718.9 L272.9,717.0 L273.7,715.1 L274.5,713.2 L275.4,711.3 L276.2,709.3 L277.1,707.4 L277.9,705.5 L278.8,703.6 L279.6,701.7 L280.5,699.8 L281.3,697.9 L282.2,696.0 L283.1,694.2 L283.9,692.3 L284.8,690.4 L285.7,688.6 L286.5,686.8 L287.4,684.9 L288.2,683.1 L289.1,681.3 L290.0,679.5 L290.9,677.8 L291.7,676.0 L292.6,674.3 L293.5,672.5 L294.4,670.8 L295.3,669.1 L296.2,667.4 L297.1,665.7 L298.0,664.0 L298.9,662.4 L299.8,660.7 L300.7,659.1 L301.7,657.4 L302.6,655.8 L303.6,654.2 L304.6,652.6 L305.6,651.0 L306.6,649.5 L307.6,647.9 L308.6,646.4 L309.6,644.8 L310.7,643.3 L311.7,641.8 L312.8,640.3 L313.9,638.8 L315.0,637.3 L316.2,635.9 L317.3,634.4 L318.5,633.0 L319.6,631.5 L320.9,630.1 L322.1,628.7 L323.3,627.3 L324.6,625.9 L325.9,624.5 L327.2,623.1 L328.5,621.8 L329.9,620.4 L331.2,619.1 L332.6,617.7 L334.1,616.4 L335.5,615.1 L337.0,613.8 L338.5,612.5 L340.0,611.3 L341.6,610.0 L343.2,608.7 L344.8,607.5 L346.4,606.2 L348.1,605.0 L349.8,603.8 L351.5,602.6 L353.3,601.4 L355.1,600.2 L356.9,599.0 L358.8,597.9 L360.7,596.7 L362.6,595.5 L364.5,594.4 L366.5,593.2 L368.5,592.1 L370.5,591.0 L372.5,589.9 L374.6,588.8 L376.7,587.6 L378.8,586.5 L380.9,585.4 L383.1,584.3 L385.3,583.3 L387.5,582.2 L389.7,581.1 L392.0,580.0 L394.2,578.9 L396.5,577.9 L398.8,576.8 L401.1,575.7 L403.5,574.7 L405.8,573.6 L408.2,572.5 L410.6,571.5 L413.0,570.4 L415.4,569.3 L417.8,568.3 L420.3,567.2 L422.7,566.1 L425.2,565.1 L427.7,564.0 L430.2,562.9 L432.7,561.9 L435.2,560.8 L437.7,559.7 L440.2,558.6 L442.8,557.5 L445.3,556.4 L447.8,555.3 L450.4,554.2 L453.0,553.1 L455.5,552.0 L458.1,550.9 L460.7,549.8 L463.3,548.7 L465.9,547.5 L468.5,546.4 L471.1,545.2 L473.6,544.1 L476.2,542.9 L478.8,541.7 L481.4,540.6 L484.0,539.4 L486.6,538.2 L489.2,537.0 L491.8,535.8 L494.4,534.5 L497.0,533.3 L499.6,532.1 L502.2,530.8 L504.8,529.6 L507.4,528.3 L510.0,527.1 L512.6,525.8 L515.2,524.6 L517.8,523.3 L520.4,522.0 L523.0,520.8 L525.5,519.5 L528.1,518.2 L530.7,516.9 L533.3,515.6 L535.9,514.3 L538.5,513.0 L541.1,511.8 L543.7,510.5 L546.3,509.2 L548.9,507.9 L551.5,506.6 L554.1,505.3 L556.7,504.0 L559.3,502.7 L561.9,501.4 L564.5,500.1 L567.1,498.8 L569.7,497.5 L572.3,496.3 L574.9,495.0 L577.4,493.7 L580.0,492.4 L582.6,491.1 L585.2,489.9 L587.8,488.6 L590.4,487.3 L593.0,486.1 L595.6,484.8 L598.2,483.6 L600.8,482.4 L603.4,481.1 L606.0,479.9 L608.6,478.7 L611.2,477.5 L613.8,476.3 L616.4,475.1 L619.0,473.9 L621.6,472.7 L624.2,471.5 L626.8,470.4 L629.4,469.2 L632.0,468.0 L634.6,466.9 L637.2,465.8 L639.8,464.6 L642.4,463.5 L645.0,462.4 L647.6,461.3 L650.3,460.2 L652.9,459.1 L655.6,458.0 L658.3,457.0 L660.9,455.9 L663.6,454.8 L666.3,453.8 L669.1,452.7 L671.8,451.7 L674.6,450.6 L677.3,449.6 L680.1,448.6 L682.9,447.6 L685.7,446.5 L688.6,445.5 L691.4,444.5 L694.3,443.5 L697.2,442.5 L700.2,441.5 L703.1,440.5 L706.1,439.5 L709.1,438.6 L712.2,437.6 L715.2,436.6 L718.3,435.6 L721.4,434.7 L724.6,433.7 L727.8,432.7 L731.0,431.8 L734.2,430.8 L737.5,429.8 L740.8,428.9 L744.2,427.9 L747.5,427.0 L751.0,426.0 L754.4,425.1 L757.9,424.1 L761.5,423.2 L765.0,422.3 L768.7,421.3 L772.3,420.4 L776.0,419.4 L779.8,418.5 L783.6,417.6 L787.4,416.6 L791.3,415.7 L795.2,414.7 L799.2,413.8 L803.2,412.9 L807.3,411.9 L811.4,411.0 L815.6,410.0 L819.7,409.1 L824.0,408.1 L828.3,407.2 L832.6,406.2 L836.9,405.3 L841.3,404.3 L845.7,403.4 L850.2,402.4 L854.7,401.5 L859.2,400.5 L863.8,399.5 L868.4,398.5 L873.0,397.6 L877.6,396.6 L882.3,395.6 L887.0,394.6 L891.8,393.6 L896.5,392.6 L901.3,391.6 L906.2,390.6 L911.0,389.6 L915.9,388.6 L920.8,387.5 L925.7,386.5 L930.6,385.4 L935.6,384.4 L940.5,383.3 L945.5,382.3 L950.5,381.2 L955.6,380.1 L960.6,379.1 L965.7,378.0 L970.8,376.9 L975.8,375.7 L980.9,374.6 L986.0,373.5 L991.2,372.4 L996.3,371.2 L1001.4,370.1 L1006.6,368.9 L1011.8,367.7 L1016.9,366.5 L1022.1,365.3 L1027.3,364.1 L1032.5,362.9 L1037.6,361.7 L1042.8,360.5 L1048.0,359.2 L1053.2,357.9 L1058.4,356.7 L1063.6,355.4 L1068.8,354.1 L1073.9,352.8 L1079.1,351.5 L1084.3,350.2 L1089.4,348.8 L1094.6,347.5 L1099.7,346.1 L1104.8,344.8 L1109.9,343.4 L1115.0,342.1 L1120.1,340.7 L1125.1,339.4 L1130.1,338.0 L1135.1,336.6 L1140.1,335.3 L1145.0,333.9 L1149.9,332.5 L1154.8,331.2 L1159.6,329.8 L1164.4,328.5 L1169.2,327.1 L1173.9,325.8 L1178.6,324.4 L1183.3,323.1 L1187.9,321.8 L1192.4,320.5 L1196.9,319.2 L1201.4,317.9 L1205.8,316.6 L1210.2,315.3 L1214.5,314.0 L1218.7,312.8 L1222.9,311.5 L1227.0,310.3 L1231.1,309.1 L1235.1,307.9 L1239.1,306.7 L1242.9,305.5 L1246.8,304.4 L1250.5,303.2 L1254.2,302.1 L1257.8,301.0 L1261.3,300.0 L1264.8,298.9 L1268.1,297.9 L1271.4,296.9 L1274.6,295.9 L1277.8,294.9 L1280.8,294.0 L1283.8,293.1 L1286.6,292.2 L1289.4,291.4 L1292.1,290.5 L1294.7,289.7 L1297.2,289.0 L1299.6,288.2 L1302.0,287.5 L1304.2,286.8 L1306.4,286.1 L1308.4,285.5 L1310.4,284.9 L1312.3,284.3 L1314.2,283.7 L1315.9,283.2 L1317.6,282.7 L1319.2,282.2 L1320.7,281.7 L1322.1,281.3 L1323.5,280.9 L1324.8,280.5 L1326.1,280.1 L1327.3,279.7 L1328.4,279.4 L1329.5,279.0 L1330.5,278.7 L1331.4,278.4 L1332.3,278.2 L1333.2,277.9 L1333.9,277.7 L1334.7,277.4 L1335.4,277.2 L1336.0,277.0 L1336.6,276.8 L1337.1,276.7 L1337.7,276.5 L1338.1,276.4 L1338.5,276.2 L1338.9,276.1 L1339.3,276.0 L1339.6,275.9 L1339.9,275.8 L1340.2,275.7 L1340.4,275.7 L1340.6,275.6 L1340.8,275.6 L1340.9,275.5 L1341.1,275.5 L1341.2,275.4 L1341.3,275.4 L1341.3,275.4 L1341.4,275.4 L1341.4,275.3 L1341.5,275.3 L1341.5,275.3 L1341.5,275.3 L1341.5,275.3 L1341.5,275.3 L1341.5,275.3 L1341.5,275.3" fill="none" stroke="#008000" stroke-width="2.9" stroke-linejoin="round" shape-rendering="crispEdges"/>
<rect x="228" y="791" width="21" height="21" fill="#008000"/>
<rect x="276" y="670" width="21" height="21" fill="#008000"/>
<rect x="324" y="588" width="21" height="21" fill="#008000"/>
<rect x="468" y="536" width="21" height="21" fill="#008000"/>
<rect x="612" y="458" width="21" height="21" fill="#008000"/>
<rect x="756" y="406" width="21" height="21" fill="#008000"/>
<rect x="1043" y="353" width="21" height="21" fill="#008000"/>
<rect x="1331" y="265" width="21" height="21" fill="#008000"/>
<path d="M238.5,852.4 L238.5,852.4 L238.5,852.4 L238.5,852.4 L238.5,852.4 L238.5,852.4 L238.5,852.4 L238.5,852.4 L238.5,852.4 L238.5,852.4 L238.5,852.3 L238.5,852.3 L238.5,852.3 L238.6,852.2 L238.6,852.2 L238.6,852.1 L238.7,852.0 L238.7,851.9 L238.7,851.9 L238.8,851.7 L238.8,851.6 L238.9,851.5 L239.0,851.4 L239.0,851.2 L239.1,851.1 L239.2,850.9 L239.3,850.7 L239.4,850.5 L239.5,850.3 L239.6,850.0 L239.7,849.8 L239.9,849.5 L240.0,849.2 L240.1,848.9 L240.3,848.5 L240.5,848.2 L240.6,847.8 L240.8,847.4 L241.0,847.0 L241.2,846.6 L241.5,846.1 L241.7,845.6 L241.9,845.1 L242.2,844.6 L242.5,844.0 L242.7,843.4 L243.0,842.8 L243.3,842.2 L243.6,841.5 L244.0,840.8 L244.3,840.1 L244.7,839.3 L245.1,838.5 L245.4,837.7 L245.8,836.9 L246.3,836.0 L246.7,835.1 L247.1,834.1 L247.6,833.1 L248.1,832.1 L248.6,831.1 L249.1,830.0 L249.6,828.9 L250.1,827.8 L250.7,826.6 L251.3,825.5 L251.8,824.2 L252.4,823.0 L253.0,821.8 L253.6,820.5 L254.3,819.2 L254.9,817.8 L255.5,816.5 L256.2,815.1 L256.9,813.7 L257.5,812.3 L258.2,810.9 L258.9,809.5 L259.6,808.0 L260.4,806.5 L261.1,805.0 L261.8,803.5 L262.6,802.0 L263.3,800.4 L264.1,798.9 L264.8,797.3 L265.6,795.7 L266.4,794.1 L267.2,792.5 L268.0,790.9 L268.8,789.3 L269.6,787.7 L270.4,786.0 L271.2,784.4 L272.0,782.7 L272.9,781.1 L273.7,779.4 L274.5,777.8 L275.4,776.1 L276.2,774.4 L277.1,772.8 L277.9,771.1 L278.8,769.4 L279.6,767.7 L280.5,766.1 L281.3,764.4 L282.2,762.7 L283.1,761.1 L283.9,759.4 L284.8,757.8 L285.7,756.1 L286.5,754.5 L287.4,752.8 L288.2,751.2 L289.1,749.6 L290.0,747.9 L290.9,746.3 L291.7,744.7 L292.6,743.1 L293.5,741.5 L294.4,739.9 L295.3,738.3 L296.2,736.7 L297.1,735.1 L298.0,733.5 L298.9,731.9 L299.8,730.3 L300.7,728.7 L301.7,727.1 L302.6,725.5 L303.6,723.9 L304.6,722.3 L305.6,720.7 L306.6,719.1 L307.6,717.5 L308.6,715.9 L309.6,714.3 L310.7,712.6 L311.7,711.0 L312.8,709.4 L313.9,707.7 L315.0,706.1 L316.2,704.4 L317.3,702.7 L318.5,701.1 L319.6,699.4 L320.9,697.7 L322.1,696.0 L323.3,694.3 L324.6,692.6 L325.9,690.8 L327.2,689.1 L328.5,687.3 L329.9,685.6 L331.2,683.8 L332.6,682.0 L334.1,680.2 L335.5,678.3 L337.0,676.5 L338.5,674.6 L340.0,672.8 L341.6,670.9 L343.2,669.0 L344.8,667.1 L346.4,665.1 L348.1,663.2 L349.8,661.2 L351.5,659.2 L353.3,657.2 L355.1,655.2 L356.9,653.1 L358.8,651.0 L360.7,649.0 L362.6,646.9 L364.5,644.8 L366.5,642.6 L368.5,640.5 L370.5,638.4 L372.5,636.2 L374.6,634.0 L376.7,631.9 L378.8,629.7 L380.9,627.5 L383.1,625.3 L385.3,623.1 L387.5,620.9 L389.7,618.7 L392.0,616.4 L394.2,614.2 L396.5,612.0 L398.8,609.8 L401.1,607.5 L403.5,605.3 L405.8,603.1 L408.2,600.9 L410.6,598.7 L413.0,596.4 L415.4,594.2 L417.8,592.0 L420.3,589.8 L422.7,587.6 L425.2,585.4 L427.7,583.2 L430.2,581.1 L432.7,578.9 L435.2,576.7 L437.7,574.6 L440.2,572.5 L442.8,570.3 L445.3,568.2 L447.8,566.1 L450.4,564.1 L453.0,562.0 L455.5,560.0 L458.1,557.9 L460.7,555.9 L463.3,553.9 L465.9,552.0 L468.5,550.0 L471.1,548.1 L473.6,546.2 L476.2,544.3 L478.8,542.4 L481.4,540.6 L484.0,538.8 L486.6,537.0 L489.2,535.2 L491.8,533.5 L494.4,531.7 L497.0,530.0 L499.6,528.3 L502.2,526.7 L504.8,525.0 L507.4,523.4 L510.0,521.8 L512.6,520.2 L515.2,518.7 L517.8,517.1 L520.4,515.6 L523.0,514.1 L525.5,512.6 L528.1,511.1 L530.7,509.6 L533.3,508.2 L535.9,506.7 L538.5,505.3 L541.1,503.9 L543.7,502.5 L546.3,501.1 L548.9,499.8 L551.5,498.4 L554.1,497.1 L556.7,495.8 L559.3,494.4 L561.9,493.1 L564.5,491.8 L567.1,490.6 L569.7,489.3 L572.3,488.0 L574.9,486.7 L577.4,485.5 L580.0,484.3 L582.6,483.0 L585.2,481.8 L587.8,480.6 L590.4,479.4 L593.0,478.2 L595.6,476.9 L598.2,475.8 L600.8,474.6 L603.4,473.4 L606.0,472.2 L608.6,471.0 L611.2,469.8 L613.8,468.6 L616.4,467.5 L619.0,466.3 L621.6,465.1 L624.2,464.0 L626.8,462.8 L629.4,461.6 L632.0,460.4 L634.6,459.3 L637.2,458.1 L639.8,456.9 L642.4,455.8 L645.0,454.6 L647.6,453.5 L650.3,452.3 L652.9,451.1 L655.6,450.0 L658.3,448.8 L660.9,447.7 L663.6,446.5 L666.3,445.4 L669.1,444.2 L671.8,443.1 L674.6,442.0 L677.3,440.8 L680.1,439.7 L682.9,438.5 L685.7,437.4 L688.6,436.3 L691.4,435.2 L694.3,434.0 L697.2,432.9 L700.2,431.8 L703.1,430.7 L706.1,429.6 L709.1,428.5 L712.2,427.4 L715.2,426.3 L718.3,425.2 L721.4,424.1 L724.6,423.0 L727.8,421.9 L731.0,420.8 L734.2,419.7 L737.5,418.7 L740.8,417.6 L744.2,416.5 L747.5,415.5 L751.0,414.4 L754.4,413.4 L757.9,412.3 L761.5,411.3 L765.0,410.3 L768.7,409.2 L772.3,408.2 L776.0,407.2 L779.8,406.2 L783.6,405.1 L787.4,404.1 L791.3,403.1 L795.2,402.1 L799.2,401.2 L803.2,400.2 L807.3,399.2 L811.4,398.2 L815.6,397.2 L819.7,396.3 L824.0,395.3 L828.3,394.3 L832.6,393.4 L836.9,392.4 L841.3,391.4 L845.7,390.5 L850.2,389.5 L854.7,388.6 L859.2,387.6 L863.8,386.6 L868.4,385.7 L873.0,384.7 L877.6,383.7 L882.3,382.8 L887.0,381.8 L891.8,380.8 L896.5,379.8 L901.3,378.9 L906.2,377.9 L911.0,376.9 L915.9,375.9 L920.8,374.9 L925.7,373.9 L930.6,372.9 L935.6,371.8 L940.5,370.8 L945.5,369.8 L950.5,368.7 L955.6,367.7 L960.6,366.6 L965.7,365.6 L970.8,364.5 L975.8,363.4 L980.9,362.3 L986.0,361.2 L991.2,360.1 L996.3,358.9 L1001.4,357.8 L1006.6,356.6 L1011.8,355.5 L1016.9,354.3 L1022.1,353.1 L1027.3,351.9 L1032.5,350.7 L1037.6,349.4 L1042.8,348.2 L1048.0,346.9 L1053.2,345.6 L1058.4,344.3 L1063.6,343.0 L1068.8,341.7 L1073.9,340.3 L1079.1,339.0 L1084.3,337.6 L1089.4,336.3 L1094.6,334.9 L1099.7,333.5 L1104.8,332.1 L1109.9,330.7 L1115.0,329.2 L1120.1,327.8 L1125.1,326.4 L1130.1,325.0 L1135.1,323.5 L1140.1,322.1 L1145.0,320.6 L1149.9,319.2 L1154.8,317.8 L1159.6,316.3 L1164.4,314.9 L1169.2,313.4 L1173.9,312.0 L1178.6,310.6 L1183.3,309.2 L1187.9,307.7 L1192.4,306.3 L1196.9,304.9 L1201.4,303.5 L1205.8,302.2 L1210.2,300.8 L1214.5,299.4 L1218.7,298.1 L1222.9,296.7 L1227.0,295.4 L1231.1,294.1 L1235.1,292.8 L1239.1,291.5 L1242.9,290.3 L1246.8,289.0 L1250.5,287.8 L1254.2,286.6 L1257.8,285.4 L1261.3,284.3 L1264.8,283.1 L1268.1,282.0 L1271.4,280.9 L1274.6,279.8 L1277.8,278.8 L1280.8,277.8 L1283.8,276.8 L1286.6,275.8 L1289.4,274.9 L1292.1,274.0 L1294.7,273.1 L1297.2,272.3 L1299.6,271.5 L1302.0,270.7 L1304.2,270.0 L1306.4,269.3 L1308.4,268.6 L1310.4,267.9 L1312.3,267.3 L1314.2,266.7 L1315.9,266.1 L1317.6,265.5 L1319.2,265.0 L1320.7,264.5 L1322.1,264.0 L1323.5,263.5 L1324.8,263.1 L1326.1,262.7 L1327.3,262.3 L1328.4,261.9 L1329.5,261.5 L1330.5,261.2 L1331.4,260.9 L1332.3,260.6 L1333.2,260.3 L1333.9,260.0 L1334.7,259.8 L1335.4,259.6 L1336.0,259.3 L1336.6,259.2 L1337.1,259.0 L1337.7,258.8 L1338.1,258.6 L1338.5,258.5 L1338.9,258.4 L1339.3,258.3 L1339.6,258.1 L1339.9,258.0 L1340.2,258.0 L1340.4,257.9 L1340.6,257.8 L1340.8,257.8 L1340.9,257.7 L1341.1,257.7 L1341.2,257.6 L1341.3,257.6 L1341.3,257.6 L1341.4,257.5 L1341.4,257.5 L1341.5,257.5 L1341.5,257.5 L1341.5,257.5 L1341.5,257.5 L1341.5,257.5 L1341.5,257.5 L1341.5,257.5" fill="none" stroke="#ff00ff" stroke-width="2.9" stroke-linejoin="round" shape-rendering="crispEdges"/>
<rect x="228" y="842" width="21" height="21" fill="#ff00ff"/>
<rect x="276" y="741" width="21" height="21" fill="#ff00ff"/>
<rect x="324" y="660" width="21" height="21" fill="#ff00ff"/>
<rect x="468" y="520" width="21" height="21" fill="#ff00ff"/>
<rect x="612" y="454" width="21" height="21" fill="#ff00ff"/>
<rect x="756" y="390" width="21" height="21" fill="#ff00ff"/>
<rect x="1043" y="343" width="21" height="21" fill="#ff00ff"/>
<rect x="1331" y="247" width="21" height="21" fill="#ff00ff"/>
</g>
<g fill="#000">
<rect x="188" y="48" width="1204" height="5"/>
<rect x="188" y="935" width="1204" height="4"/>
<rect x="188" y="48" width="5" height="891"/>
<rect x="1387" y="48" width="5" height="891"/>
</g>
<g fill="#000"><rect x="171" y="935" width="21" height="4" rx="2"/><rect x="171" y="758" width="21" height="4" rx="2"/><rect x="171" y="580" width="21" height="4" rx="2"/><rect x="171" y="403" width="21" height="4" rx="2"/><rect x="171" y="226" width="21" height="4" rx="2"/><rect x="171" y="48" width="21" height="5" rx="2"/><rect x="180" y="846" width="12" height="4" rx="2"/><rect x="180" y="669" width="12" height="4" rx="2"/><rect x="180" y="492" width="12" height="4" rx="2"/><rect x="180" y="314" width="12" height="4" rx="2"/><rect x="180" y="137" width="12" height="4" rx="2"/><rect x="188" y="930" width="5" height="27" rx="2"/><rect x="668" y="935" width="4" height="22" rx="2"/><rect x="1148" y="935" width="4" height="22" rx="2"/><rect x="428" y="935" width="4" height="13" rx="2"/><rect x="908" y="935" width="4" height="13" rx="2"/><rect x="1387" y="930" width="5" height="18" rx="2"/></g>
<defs><filter id="bin" x="0" y="0" width="100%" height="100%" filterUnits="userSpaceOnUse" color-interpolation-filters="sRGB"><feComponentTransfer><feFuncA type="discrete" tableValues="0 1"/></feComponentTransfer></filter></defs>
<g filter="url(#bin)">
<g fill="#000"><text font-family="Liberation Sans, sans-serif" font-size="38.5" transform="translate(140.57,949.20) scale(0.9307,1)" >0</text><text font-family="Liberation Sans, sans-serif" font-size="38.5" transform="translate(117.03,771.90) scale(1.0237,1)" >20</text><text font-family="Liberation Sans, sans-serif" font-size="38.5" transform="translate(118.23,594.60) scale(0.9944,1)" >40</text><text font-family="Liberation Sans, sans-serif" font-size="38.5" transform="translate(117.03,417.30) scale(1.0237,1)" >60</text><text font-family="Liberation Sans, sans-serif" font-size="38.5" transform="translate(117.85,240.00) scale(1.0037,1)" >80</text><g transform="translate(97.20,62.70) scale(0.9880,1)"><path d="M515,0L515,1237L197,1010L197,1180L530,1409L696,1409L696,0Z" transform="translate(0.000,0) scale(0.01880,-0.01880)"/><text font-family="Liberation Sans, sans-serif" font-size="38.5" x="21.412" y="0">00</text></g><text font-family="Liberation Sans, sans-serif" font-size="38.5" transform="translate(180.60,998.00) scale(0.9091,1)" >0</text><g transform="translate(639.19,998.00) scale(0.9643,1)"><path d="M515,0L515,1237L197,1010L197,1180L530,1409L696,1409L696,0Z" transform="translate(0.000,0) scale(0.01880,-0.01880)"/><text font-family="Liberation Sans, sans-serif" font-size="38.5" x="21.412" y="0">00</text></g><text font-family="Liberation Sans, sans-serif" font-size="38.5" transform="translate(1117.10,998.00) scale(0.9880,1)" >200</text></g>
<text font-family="Liberation Sans, sans-serif" font-size="49.1" transform="translate(678.05,1068.80) scale(0.9659,1)" >Time (min)</text>
<g transform="translate(78.6,653.8) rotate(-90)"><text font-family="Liberation Sans, sans-serif" font-size="49.1" transform="translate(-2.35,0) scale(0.9577,1)">Conversion (%)</text></g>
</g>
<g fill="#000">
<rect x="223" y="60" width="361" height="3"/>
<rect x="223" y="411" width="361" height="2"/>
<rect x="223" y="60" width="3" height="353"/>
<rect x="582" y="60" width="2" height="353"/>
</g>
<rect x="257" y="112" width="41" height="3" fill="#000000"/>
<rect x="323" y="112" width="42" height="3" fill="#000000"/>
<rect x="300" y="103" width="21" height="21" fill="#000000"/>
<rect x="257" y="170" width="41" height="2" fill="#ff0000"/>
<rect x="323" y="170" width="42" height="2" fill="#ff0000"/>
<rect x="300" y="160" width="21" height="21" fill="#ff0000"/>
<rect x="257" y="241" width="41" height="3" fill="#0000ff"/>
<rect x="323" y="241" width="42" height="3" fill="#0000ff"/>
<rect x="300" y="232" width="21" height="21" fill="#0000ff"/>
<rect x="257" y="313" width="41" height="2" fill="#008000"/>
<rect x="323" y="313" width="42" height="2" fill="#008000"/>
<rect x="300" y="304" width="21" height="21" fill="#008000"/>
<rect x="257" y="384" width="41" height="2" fill="#ff00ff"/>
<rect x="323" y="384" width="42" height="2" fill="#ff00ff"/>
<rect x="300" y="374" width="21" height="21" fill="#ff00ff"/>
<g filter="url(#bin)">
<text font-family="Liberation Sans, sans-serif" font-size="49.1" transform="translate(377.21,129.80) scale(0.9644,1)" >Ni/G</text>
<text font-family="Liberation Sans, sans-serif" font-size="49.1" transform="translate(377.27,188.00) scale(0.9504,1)" >NiCo</text>
<g transform="translate(480.33,204.00) scale(1.0036,1)"><text font-family="Liberation Sans, sans-serif" font-size="29.1" x="0.000" y="0">3:</text><path d="M515,0L515,1237L197,1010L197,1180L530,1409L696,1409L696,0Z" transform="translate(24.269,0) scale(0.01421,-0.01421)"/></g>
<text font-family="Liberation Sans, sans-serif" font-size="49.1" transform="translate(520.00,188.00) scale(0.9830,1)" >/G</text>
<text font-family="Liberation Sans, sans-serif" font-size="49.1" transform="translate(377.27,259.00) scale(0.9504,1)" >NiCo</text>
<g transform="translate(480.03,276.00) scale(1.0125,1)"><text font-family="Liberation Sans, sans-serif" font-size="29.1" x="0.000" y="0">2:</text><path d="M515,0L515,1237L197,1010L197,1180L530,1409L696,1409L696,0Z" transform="translate(24.269,0) scale(0.01421,-0.01421)"/></g>
<text font-family="Liberation Sans, sans-serif" font-size="49.1" transform="translate(520.00,259.00) scale(0.9830,1)" >/G</text>
<text font-family="Liberation Sans, sans-serif" font-size="49.1" transform="translate(377.27,330.00) scale(0.9504,1)" >NiCo</text>
<g transform="translate(478.96,347.00) scale(1.0438,1)"><path d="M515,0L515,1237L197,1010L197,1180L530,1409L696,1409L696,0Z" transform="translate(0.000,0) scale(0.01421,-0.01421)"/><text font-family="Liberation Sans, sans-serif" font-size="29.1" x="16.184" y="0">:</text><path d="M515,0L515,1237L197,1010L197,1180L530,1409L696,1409L696,0Z" transform="translate(24.269,0) scale(0.01421,-0.01421)"/></g>
<text font-family="Liberation Sans, sans-serif" font-size="49.1" transform="translate(520.00,330.00) scale(0.9830,1)" >/G</text>
<text font-family="Liberation Sans, sans-serif" font-size="49.1" transform="translate(376.72,401.40) scale(0.9704,1)" >Co/G</text>
</g>
</svg>
</body></html>
